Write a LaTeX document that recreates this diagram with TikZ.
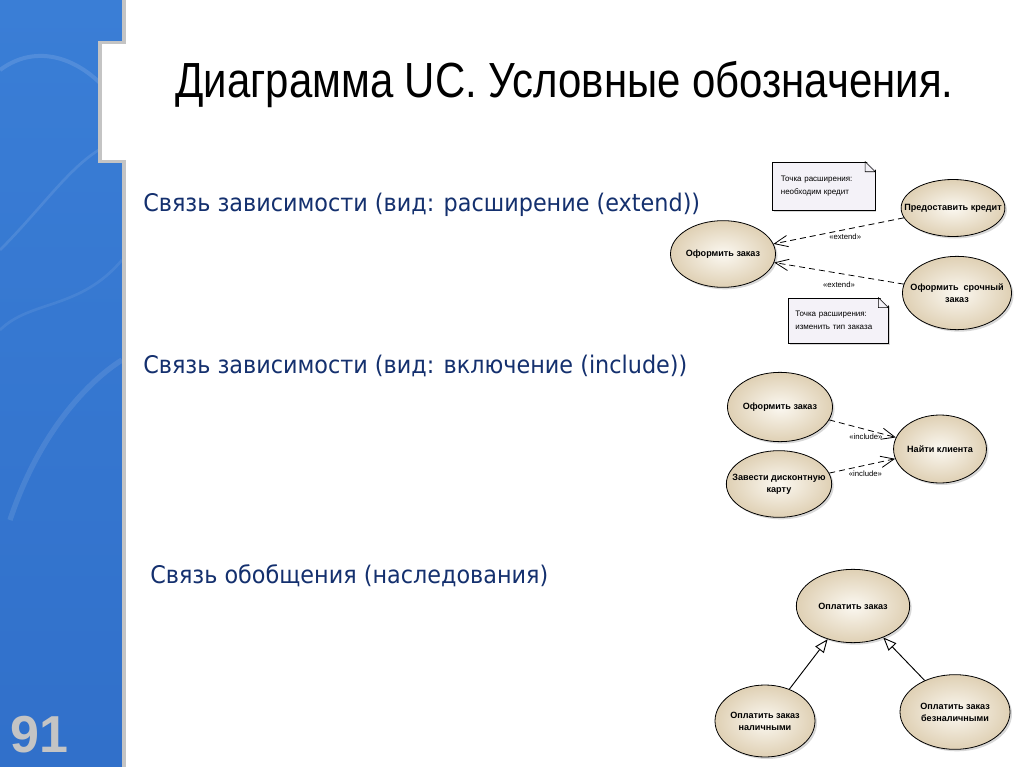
\documentclass[tikz,border=0pt]{standalone}
\usepackage{fontspec}
\setmainfont{Liberation Sans}
\newfontfamily\titlefont[FakeStretch=0.85]{Liberation Sans}
\newfontfamily\headfont[FakeStretch=0.92]{DejaVu Sans}
\usetikzlibrary{shapes.geometric,arrows.meta,shadows}
\definecolor{panelblue}{HTML}{3A7ED6}
\definecolor{paneldark}{HTML}{3170CA}
\definecolor{rimgray}{HTML}{C4C4C4}
\definecolor{headblue}{HTML}{14306E}
\definecolor{ucfill}{HTML}{FBF8F1}
\definecolor{ucedge}{HTML}{DFD0B4}
\definecolor{notefill}{HTML}{F4F2F8}
\begin{document}
\begin{tikzpicture}[x=0.75pt,y=-0.75pt,
    usecase/.style={ellipse,draw,line width=0.6pt,inner sep=0pt,align=center,
      font=\fontsize{6.8}{9}\selectfont\bfseries,
      inner color=ucfill,outer color=ucedge,
      drop shadow={shadow xshift=1.5pt,shadow yshift=-1.5pt,opacity=.3}},
    note/.style={rectangle,draw,line width=0.4pt,fill=notefill,
      inner xsep=4.5pt,text width=64pt,align=left,font=\fontsize{6}{9.5}\selectfont,
      drop shadow={shadow xshift=1.2pt,shadow yshift=-1.2pt,opacity=.3}},
    dep/.style={draw,dash pattern=on 4.5pt off 3pt,line width=0.6pt,
      -{Straight Barb[length=10pt,width=8.5pt]}},
    gen/.style={draw,line width=0.7pt,-{Triangle[open,length=10pt,width=8pt,fill=white]}},
    stereo/.style={font=\fontsize{5.8}{6}\selectfont,inner sep=1pt},
    heading/.style={anchor=base west,inner sep=0pt,text=headblue,
      font=\headfont\fontsize{18.2}{20}\selectfont}]
  \useasboundingbox[fill=white] (0,0) rectangle (1024,767);
  \shade[top color=panelblue,bottom color=paneldark] (0,0) rectangle (122,767);
  \draw[white,opacity=.12,line width=3pt] (0,70) .. controls (40,40) and (90,60) .. (122,110);
  \draw[white,opacity=.1,line width=2pt] (0,250) .. controls (50,200) and (80,150) .. (122,140);
  \draw[white,opacity=.1,line width=4pt] (10,520) .. controls (40,430) and (90,380) .. (122,360);
  \draw[white,opacity=.08,line width=2pt] (0,330) .. controls (30,300) and (80,310) .. (122,260);
  \fill[rimgray] (122,0) rectangle (126,767);
  \fill[rimgray] (98,41) rectangle (126,163);
  \fill[white] (102,44) rectangle (126,160);
  \node[anchor=base west,inner sep=0pt,text=rimgray,font=\fontsize{39}{40}\selectfont\bfseries]
    (pagenum) at (10,752) {91};
  \node[anchor=base west,inner sep=0pt,font=\titlefont\fontsize{37}{40}\selectfont]
    (title) at (175,98) {Диаграмма UC. Условные обозначения.};
  \node[heading] (extendhead) at (143,211) {Связь зависимости (вид: расширение (extend))};
  \node[heading] (includehead) at (143,373) {Связь зависимости (вид: включение (include))};
  \node[heading] (generalhead) at (150,583) {Связь обобщения (наследования)};
  \node[note,minimum width=77pt,minimum height=36pt] (note1) at (823.5,186)
    {Точка расширения:\\необходим кредит};
  \node[note,minimum width=75pt,minimum height=34pt] (note2) at (838,320.5)
    {Точка расширения:\\изменить тип заказа};
  \foreach \n in {note1,note2}{
    \fill[white] ([xshift=-7.5pt,yshift=1pt]\n.north east) -- ([xshift=2pt,yshift=1pt]\n.north east)
      -- ([xshift=2pt,yshift=-7.5pt]\n.north east) -- cycle;
    \draw[line width=0.4pt] ([xshift=-7.5pt]\n.north east) -- ([yshift=-7.5pt]\n.north east)
      -- ([xshift=-7.5pt,yshift=-7.5pt]\n.north east) -- cycle;
  }
  \node[usecase,inner xsep=-9pt,minimum width=76.5pt,minimum height=42.75pt] (credit) at (953,208) {Предоставить кредит};
  \node[usecase,minimum width=75pt,minimum height=50pt] (order1) at (723,254) {Оформить заказ};
  \node[usecase,inner xsep=-6pt,minimum width=73pt,minimum height=55pt] (urgent) at (957,293) {Оформить\ \ срочный\\заказ};
  \draw[dep] (credit) -- node[stereo,below=2pt,pos=0.45] {«extend»} (order1);
  \draw[dep] (urgent) -- node[stereo,below=5pt] {«extend»} (order1);
  \node[usecase,minimum width=78pt,minimum height=52pt] (order2) at (780,407) {Оформить заказ};
  \node[usecase,minimum width=67.5pt,minimum height=51pt] (findclient) at (940,449) {Найти клиента};
  \node[usecase,inner xsep=-8pt,minimum width=79pt,minimum height=50pt] (card) at (779,484) {Завести дисконтную\\карту};
  \draw[dep] (order2) -- node[stereo,below=2pt,pos=0.55] {«include»} (findclient);
  \draw[dep] (card) -- node[stereo,below=3pt,pos=0.55] {«include»} (findclient);
  \node[usecase,minimum width=85pt,minimum height=55pt] (pay) at (853,606) {Оплатить заказ};
  \node[usecase,minimum width=75pt,minimum height=54pt] (cash) at (765,721) {Оплатить заказ\\наличными};
  \node[usecase,minimum width=82.5pt,minimum height=56pt] (cashless) at (955,712) {Оплатить заказ\\безналичными};
  \draw[gen] (cash) -- (pay);
  \draw[gen] (cashless) -- (pay);
\end{tikzpicture}
\end{document}
